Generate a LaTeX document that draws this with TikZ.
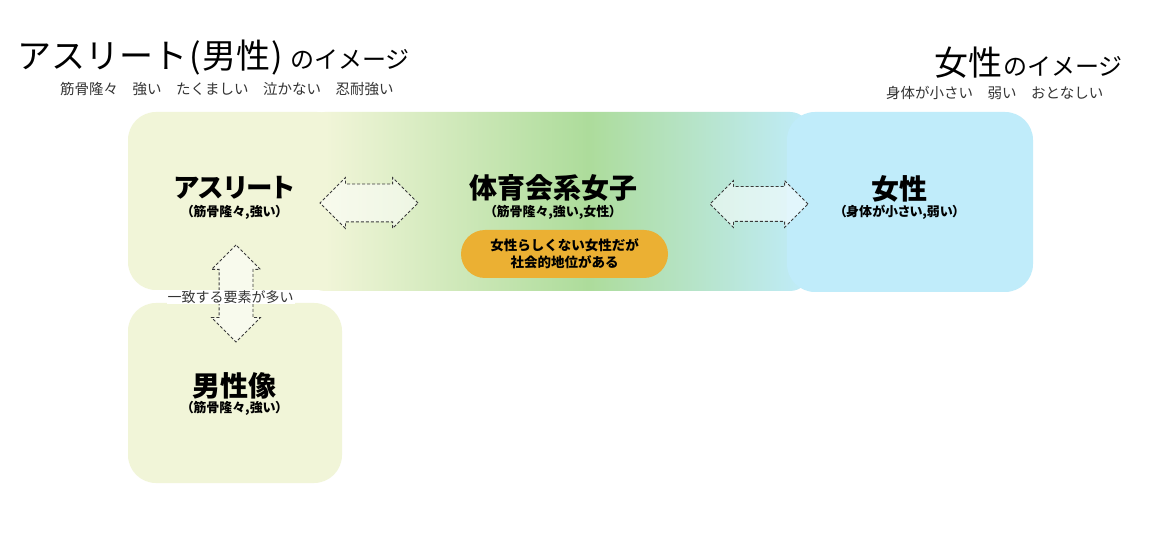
\documentclass[tikz,border=0pt]{standalone}
\usepackage{fontspec}
\setmainfont{Noto Sans CJK JP}
\newfontfamily\lab[RawFeature=+palt]{Noto Sans CJK JP}
\usetikzlibrary{shapes.arrows}
\definecolor{paleY}{HTML}{F1F5D8}
\definecolor{midG}{HTML}{ADDC9B}
\definecolor{skyB}{HTML}{C0ECFA}
\definecolor{pillO}{HTML}{EBB033}
\definecolor{dashC}{HTML}{3A3A3A}
\definecolor{txtG}{HTML}{333333}
\pgfdeclarehorizontalshading{tri}{100bp}{color(0bp)=(paleY); color(27bp)=(paleY); color(53bp)=(midG); color(75bp)=(skyB); color(100bp)=(skyB)}
\begin{document}
\begin{tikzpicture}[x=1pt,y=-1pt,
  panel/.style={rectangle, rounded corners=28pt, inner sep=0pt, draw=none},
  dblarrow/.style={double arrow, draw=dashC, dash pattern=on 3pt off 2pt, line width=0.8pt,
    fill=white, fill opacity=0.55, inner xsep=0pt, double arrow tip angle=90},
  biglab/.style={inner sep=0pt, font=\lab\bfseries\fontsize{28}{28}\selectfont},
  sublab/.style={inner sep=0pt, font=\lab\bfseries\fontsize{13}{13}\selectfont},
  subtitle/.style={inner sep=0pt, anchor=west, text=txtG, font=\fontsize{14.5}{14.5}\selectfont}
]
\useasboundingbox (0,0) rectangle (1173,534);
\fill[white] (0,0) rectangle (1173,534);

% panels
\node[panel, fill=paleY, minimum width=217pt, minimum height=178pt] (athBox) at (236.5,201) {};
\node[panel, shading=tri, rounded corners=20pt, minimum width=505pt, minimum height=179pt] (midBox) at (557.5,201.5) {};
\node[panel, fill=skyB, minimum width=246pt, minimum height=180pt] (womBox) at (910,202) {};
\node[panel, fill=paleY, minimum width=214pt, minimum height=180pt] (menBox) at (235,393) {};

% arrows
\node[dblarrow, inner ysep=18.5pt, double arrow head extend=6.5pt, minimum height=98pt] (arrL) at (369,203) {};
\node[dblarrow, inner ysep=17pt, double arrow head extend=6pt, minimum height=98pt] (arrR) at (759,204) {};
\node[dblarrow, inner ysep=16.5pt, double arrow head extend=7.5pt, minimum height=97pt, rotate=90] (arrV) at (236,293.5) {};

% titles
\node[inner sep=0pt, anchor=base west, text=black] (title1) at (17,69)
  {\fontsize{34}{34}\selectfont アスリート\hspace{2pt}(\hspace{1.5pt}男性\hspace{1.5pt})\hspace{7pt}\fontsize{24}{24}\selectfont のイメージ};
\node[subtitle] (sub1) at (60,89) {筋骨隆々　強い　たくましい　泣かない　忍耐強い};
\node[inner sep=0pt, anchor=base west, text=black] (title2) at (934,76)
  {\fontsize{34}{34}\selectfont 女性\hspace{1pt}\fontsize{24}{24}\selectfont のイメージ};
\node[subtitle] (sub2) at (886,93) {身体が小さい　弱い　おとなしい};

% labels
\node[biglab, font=\lab\bfseries\fontsize{26.5}{26.5}\selectfont] (ath) at (234.5,187.5) {アスリート};
\node[sublab] (athS) at (234.5,212) {（筋骨隆々,強い）};
\node[biglab] (tai) at (553,187.5) {体育会系女子};
\node[sublab] (taiS) at (553,212) {（筋骨隆々,強い,女性）};
\node[biglab] (wom) at (899.5,189) {女性};
\node[sublab] (womS) at (899.5,212.5) {（身体が小さい,弱い）};
\node[biglab] (men) at (234.5,386) {男性像};
\node[sublab] (menS) at (234.5,408) {（筋骨隆々,強い）};

% pill
\node[rectangle, rounded corners=24pt, fill=pillO, minimum width=207pt, minimum height=48pt, inner sep=0pt] (pill) at (564.5,254) {};
\node[inner sep=0pt, align=center, font=\bfseries\fontsize{13.5}{17}\selectfont] (pillT) at (pill.center) {女性らしくない女性だが\\社会的地位がある};

% match text
\node[fill=white, inner sep=1pt, text=txtG, font=\fontsize{14}{14}\selectfont] (match) at (230.5,297) {一致する要素が多い};
\end{tikzpicture}
\end{document}
